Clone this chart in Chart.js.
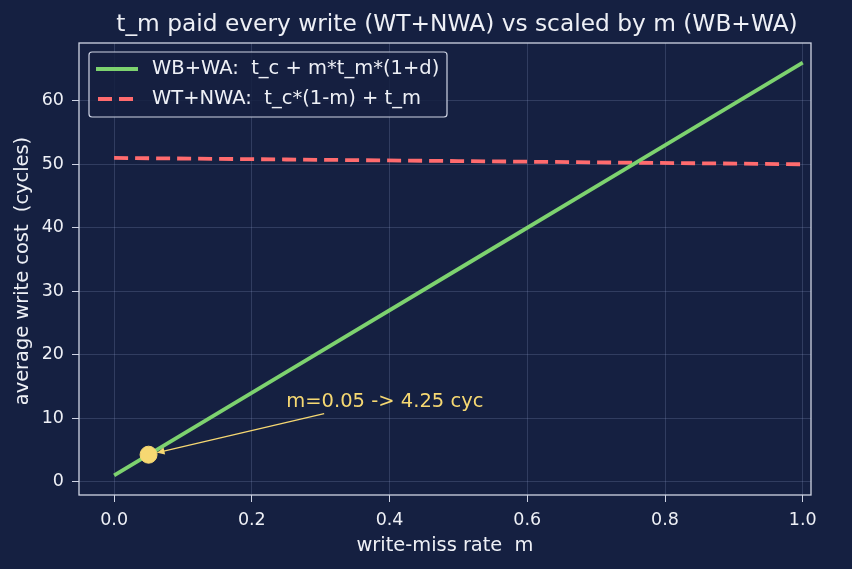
<!DOCTYPE html>
<html>
<head>
<meta charset="utf-8">
<script src="https://cdn.jsdelivr.net/npm/chart.js@4/dist/chart.umd.min.js"></script>
<style>
  html, body { margin: 0; padding: 0; background: #152041; }
  #wrap { width: 852px; height: 569px; position: relative; }
</style>
</head>
<body>
<div id="wrap"><canvas id="c" width="852" height="569"></canvas></div>
<script>
// write-miss rate m
const missRate = [0, 0.25, 0.5, 0.75, 1.0];
// WB+WA cost (green, rising)
const wbwaCost = [1, 17.25, 33.5, 49.75, 66];
// WT+NWA cost (red dashed, almost flat)
const wtnwaCost = [51, 50.75, 50.5, 50.25, 50];
// highlighted point
const markX = [0.05];
const markY = [4.25];
const markLabel = "m=0.05 -> 4.25 cyc";
const xTicks = [0, 0.2, 0.4, 0.6, 0.8, 1.0];
const yTicks = [0, 10, 20, 30, 40, 50, 60];
const wbLabel = "WB+WA:  t_c + m*t_m*(1+d)";
const wtLabel = "WT+NWA:  t_c*(1-m) + t_m";

const BG = "#152041";
const FG = "#eef0f6";
const GREEN = "#7dd26f";
const RED = "#ff6b6e";
const GOLD = "#f6d872";
const FONT = "'DejaVu Sans', sans-serif";

const toPts = (xs, ys) => xs.map((x, i) => ({ x, y: ys[i] }));

// title, axis labels, legend, annotation
const decorations = {
  id: "decorations",
  beforeDraw(chart) {
    const ctx = chart.ctx;
    ctx.save();
    ctx.fillStyle = BG;
    ctx.fillRect(0, 0, chart.width, chart.height);
    ctx.restore();
  },
  afterDraw(chart) {
    const ctx = chart.ctx;
    const a = chart.chartArea;
    const xs = chart.scales.x, ys = chart.scales.y;
    ctx.save();

    // frame
    ctx.strokeStyle = "#cfd4e4";
    ctx.lineWidth = 1.3;
    ctx.strokeRect(a.left, a.top, a.right - a.left, a.bottom - a.top);

    // title
    ctx.fillStyle = FG;
    ctx.font = "23.3px " + FONT;
    ctx.textAlign = "center";
    ctx.textBaseline = "alphabetic";
    ctx.fillText("t_m paid every write (WT+NWA) vs scaled by m (WB+WA)", 457, 31);

    // axis labels
    ctx.font = "19.4px " + FONT;
    ctx.fillText("write-miss rate  m", (a.left + a.right) / 2, 551);
    ctx.save();
    ctx.translate(28, 271);
    ctx.rotate(-Math.PI / 2);
    ctx.fillText("average write cost  (cycles)", 0, 0);
    ctx.restore();

    // annotation arrow + text
    const px = xs.getPixelForValue(markX[0]), py = ys.getPixelForValue(markY[0]);
    const tx = xs.getPixelForValue(0.305), ty = ys.getPixelForValue(10.7);
    ctx.strokeStyle = GOLD;
    ctx.fillStyle = GOLD;
    ctx.lineWidth = 1.3;
    const ang = Math.atan2(py - ty, px - tx);
    const ex = px - Math.cos(ang) * 9, ey = py - Math.sin(ang) * 9;
    ctx.beginPath();
    ctx.moveTo(tx, ty);
    ctx.lineTo(ex, ey);
    ctx.stroke();
    ctx.beginPath();
    ctx.moveTo(ex, ey);
    ctx.lineTo(ex - Math.cos(ang - 0.45) * 8, ey - Math.sin(ang - 0.45) * 8);
    ctx.lineTo(ex - Math.cos(ang + 0.45) * 8, ey - Math.sin(ang + 0.45) * 8);
    ctx.closePath();
    ctx.fill();
    ctx.font = "19.5px " + FONT;
    ctx.textAlign = "left";
    ctx.fillText(markLabel, xs.getPixelForValue(0.25), ys.getPixelForValue(12) + 2);

    // legend
    const lx = 89, ly = 52, lw = 358, lh = 65;
    ctx.fillStyle = "rgba(21,32,65,0.85)";
    ctx.strokeStyle = "#cfd4e4";
    ctx.lineWidth = 1.2;
    ctx.beginPath();
    ctx.roundRect(lx, ly, lw, lh, 3);
    ctx.fill();
    ctx.stroke();
    ctx.lineWidth = 3.8;
    ctx.strokeStyle = GREEN;
    ctx.beginPath();
    ctx.moveTo(96, 69);
    ctx.lineTo(138, 69);
    ctx.stroke();
    ctx.strokeStyle = RED;
    ctx.setLineDash([14, 7]);
    ctx.beginPath();
    ctx.moveTo(98, 99);
    ctx.lineTo(138, 99);
    ctx.stroke();
    ctx.setLineDash([]);
    ctx.fillStyle = FG;
    ctx.font = "19.5px " + FONT;
    ctx.textBaseline = "middle";
    ctx.fillText(wbLabel, 152, 69);
    ctx.fillText(wtLabel, 152, 99);
    ctx.restore();
  }
};

new Chart(document.getElementById("c"), {
  type: "scatter",
  data: {
    datasets: [
      {
        label: wbLabel,
        data: toPts(missRate, wbwaCost),
        showLine: true,
        borderColor: GREEN,
        borderWidth: 3.8,
        pointRadius: 0,
        order: 2
      },
      {
        label: wtLabel,
        data: toPts(missRate, wtnwaCost),
        showLine: true,
        borderColor: RED,
        borderWidth: 3.8,
        borderDash: [14, 7],
        pointRadius: 0,
        order: 3
      },
      {
        label: "marker",
        data: toPts(markX, markY),
        pointRadius: 8.5,
        pointBackgroundColor: GOLD,
        pointBorderColor: GOLD,
        order: 1
      }
    ]
  },
  options: {
    responsive: false,
    animation: false,
    layout: { padding: { left: 0, right: 41, top: 43, bottom: 0 } },
    plugins: {
      legend: { display: false },
      title: { display: false },
      tooltip: { enabled: false }
    },
    scales: {
      x: {
        type: "linear",
        min: -0.051,
        max: 1.012,
        afterFit: s => { s.height = 74; },
        afterBuildTicks: s => { s.ticks = xTicks.map(v => ({ value: v })); },
        ticks: {
          color: FG,
          font: { family: FONT, size: 17.5 },
          padding: 7.5,
          maxRotation: 0,
          callback: v => v.toFixed(1)
        },
        grid: { color: "rgba(150,165,210,0.22)", tickColor: "#cfd4e4", tickLength: 7 },
        border: { display: false }
      },
      y: {
        type: "linear",
        min: -2.1,
        max: 69.1,
        afterFit: s => { s.width = 79; },
        afterBuildTicks: s => { s.ticks = yTicks.map(v => ({ value: v })); },
        ticks: {
          color: FG,
          font: { family: FONT, size: 17.5 },
          padding: 8
        },
        grid: { color: "rgba(150,165,210,0.22)", tickColor: "#cfd4e4", tickLength: 7 },
        border: { display: false }
      }
    }
  },
  plugins: [decorations]
});
</script>
</body>
</html>
